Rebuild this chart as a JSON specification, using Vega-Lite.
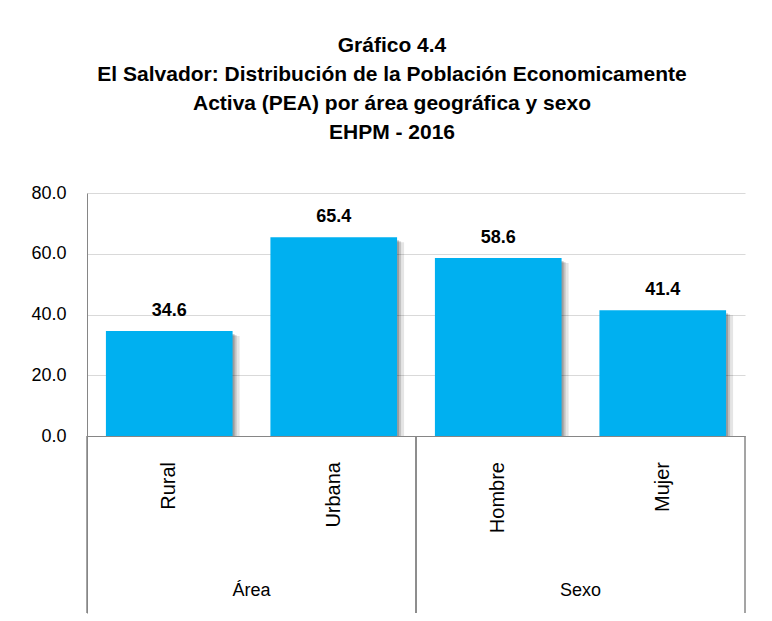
{
  "$schema": "https://vega.github.io/schema/vega-lite/v6.json",
  "width": 658,
  "height": 420,
  "autosize": {"type": "none"},
  "padding": {"left": 87, "top": 193, "right": 27, "bottom": 8},
  "background": "white",
  "title": {
    "text": ["Gráfico 4.4", "El Salvador: Distribución de la Población Economicamente", "Activa (PEA) por área geográfica y sexo", "EHPM - 2016"],
    "font": "Liberation Sans",
    "fontSize": 21,
    "fontWeight": "bold",
    "lineHeight": 29,
    "color": "#000000",
    "anchor": "middle",
    "frame": "group",
    "dx": -24,
    "offset": 41
  },
  "data": {
    "values": [
      {"grupo": "Área", "categoria": "Rural", "orden": 1, "valor": 34.6},
      {"grupo": "Área", "categoria": "Urbana", "orden": 2, "valor": 65.4},
      {"grupo": "Sexo", "categoria": "Hombre", "orden": 1, "valor": 58.6},
      {"grupo": "Sexo", "categoria": "Mujer", "orden": 2, "valor": 41.4}
    ]
  },
  "layer": [
    {
      "layer": [
        {
          "mark": {"type": "bar", "color": "#000000", "opacity": 0.1, "xOffset": 7, "yOffset": 5},
          "encoding": {
            "x": {"field": "categoria", "type": "nominal", "sort": ["Rural", "Urbana", "Hombre", "Mujer"], "scale": {"paddingInner": 0.23, "paddingOuter": 0.115}, "axis": null},
            "y": {"field": "valor", "type": "quantitative", "scale": {"domain": [-58.27, 80], "nice": false, "zero": false},
              "axis": {"title": null, "values": [0, 20, 40, 60, 80], "format": ".1f", "ticks": false, "domainColor": "#868686", "gridColor": {"condition": {"test": "datum.value === 0", "value": "#868686"}, "value": "#d9d9d9"}, "labelPadding": 21, "labelFont": "Liberation Sans", "labelFontSize": 18, "labelColor": "#000000"}},
            "y2": {"datum": 0}
          }
        },
        {
          "mark": {"type": "bar", "color": "#000000", "opacity": 0.15, "xOffset": 4, "yOffset": 4},
          "encoding": {
            "x": {"field": "categoria", "type": "nominal", "sort": ["Rural", "Urbana", "Hombre", "Mujer"], "scale": {"paddingInner": 0.23, "paddingOuter": 0.115}, "axis": null},
            "y": {"field": "valor", "type": "quantitative", "scale": {"domain": [-58.27, 80], "nice": false, "zero": false},
              "axis": {"title": null, "values": [0, 20, 40, 60, 80], "format": ".1f", "ticks": false, "domainColor": "#868686", "gridColor": {"condition": {"test": "datum.value === 0", "value": "#868686"}, "value": "#d9d9d9"}, "labelPadding": 21, "labelFont": "Liberation Sans", "labelFontSize": 18, "labelColor": "#000000"}},
            "y2": {"datum": 0}
          }
        },
        {
          "mark": {"type": "bar", "color": "#000000", "opacity": 0.2, "xOffset": 2, "yOffset": 3},
          "encoding": {
            "x": {"field": "categoria", "type": "nominal", "sort": ["Rural", "Urbana", "Hombre", "Mujer"], "scale": {"paddingInner": 0.23, "paddingOuter": 0.115}, "axis": null},
            "y": {"field": "valor", "type": "quantitative", "scale": {"domain": [-58.27, 80], "nice": false, "zero": false},
              "axis": {"title": null, "values": [0, 20, 40, 60, 80], "format": ".1f", "ticks": false, "domainColor": "#868686", "gridColor": {"condition": {"test": "datum.value === 0", "value": "#868686"}, "value": "#d9d9d9"}, "labelPadding": 21, "labelFont": "Liberation Sans", "labelFontSize": 18, "labelColor": "#000000"}},
            "y2": {"datum": 0}
          }
        }
      ]
    },
    {
      "layer": [
        {
          "mark": {"type": "bar", "color": "#00B0F0"},
          "encoding": {
            "x": {"field": "grupo", "type": "nominal", "sort": ["Área", "Sexo"], "scale": {"paddingInner": 0, "paddingOuter": 0},
              "axis": {"title": null, "orient": "bottom", "labelAngle": 0, "ticks": false, "tickSize": 0, "domain": false, "labelPadding": -18, "labelBaseline": "alphabetic", "labelFont": "Liberation Sans", "labelFontSize": 18, "labelColor": "#000000"}},
            "xOffset": {"field": "orden", "type": "nominal", "scale": {"paddingInner": 0.23, "paddingOuter": 0.115}},
            "y": {"field": "valor", "type": "quantitative", "scale": {"domain": [-58.27, 80], "nice": false, "zero": false},
              "axis": {"title": null, "values": [0, 20, 40, 60, 80], "format": ".1f", "ticks": false, "domainColor": "#868686", "gridColor": {"condition": {"test": "datum.value === 0", "value": "#868686"}, "value": "#d9d9d9"}, "labelPadding": 21, "labelFont": "Liberation Sans", "labelFontSize": 18, "labelColor": "#000000"}},
            "y2": {"datum": 0}
          }
        },
        {
          "mark": {"type": "text", "baseline": "alphabetic", "dy": -15, "font": "Liberation Sans", "fontWeight": "bold", "fontSize": 18, "color": "#000000"},
          "encoding": {
            "x": {"field": "grupo", "type": "nominal", "sort": ["Área", "Sexo"], "scale": {"paddingInner": 0, "paddingOuter": 0},
              "axis": {"title": null, "orient": "bottom", "labelAngle": 0, "ticks": false, "tickSize": 0, "domain": false, "labelPadding": -18, "labelBaseline": "alphabetic", "labelFont": "Liberation Sans", "labelFontSize": 18, "labelColor": "#000000"}},
            "xOffset": {"field": "orden", "type": "nominal", "scale": {"paddingInner": 0.23, "paddingOuter": 0.115}},
            "y": {"field": "valor", "type": "quantitative", "scale": {"domain": [-58.27, 80], "nice": false, "zero": false},
              "axis": {"title": null, "values": [0, 20, 40, 60, 80], "format": ".1f", "ticks": false, "domainColor": "#868686", "gridColor": {"condition": {"test": "datum.value === 0", "value": "#868686"}, "value": "#d9d9d9"}, "labelPadding": 21, "labelFont": "Liberation Sans", "labelFontSize": 18, "labelColor": "#000000"}},
            "text": {"field": "valor", "type": "quantitative", "format": ".1f"}
          }
        },
        {
          "mark": {"type": "text", "angle": 270, "align": "right", "baseline": "middle", "dx": -26, "font": "Liberation Sans", "fontSize": 20, "color": "#000000"},
          "encoding": {
            "x": {"field": "grupo", "type": "nominal", "sort": ["Área", "Sexo"], "scale": {"paddingInner": 0, "paddingOuter": 0},
              "axis": {"title": null, "orient": "bottom", "labelAngle": 0, "ticks": false, "tickSize": 0, "domain": false, "labelPadding": -18, "labelBaseline": "alphabetic", "labelFont": "Liberation Sans", "labelFontSize": 18, "labelColor": "#000000"}},
            "xOffset": {"field": "orden", "type": "nominal", "scale": {"paddingInner": 0.23, "paddingOuter": 0.115}},
            "y": {"datum": 0, "type": "quantitative", "scale": {"domain": [-58.27, 80], "nice": false, "zero": false},
              "axis": {"title": null, "values": [0, 20, 40, 60, 80], "format": ".1f", "ticks": false, "domainColor": "#868686", "gridColor": {"condition": {"test": "datum.value === 0", "value": "#868686"}, "value": "#d9d9d9"}, "labelPadding": 21, "labelFont": "Liberation Sans", "labelFontSize": 18, "labelColor": "#000000"}},
            "text": {"field": "categoria", "type": "nominal"}
          }
        },
        {
          "mark": {"type": "rule", "color": "#868686", "strokeWidth": 1},
          "encoding": {
            "x": {"field": "grupo", "type": "nominal", "sort": ["Área", "Sexo"], "bandPosition": 0, "scale": {"paddingInner": 0, "paddingOuter": 0},
              "axis": {"title": null, "orient": "bottom", "labelAngle": 0, "ticks": false, "tickSize": 0, "domain": false, "labelPadding": -18, "labelBaseline": "alphabetic", "labelFont": "Liberation Sans", "labelFontSize": 18, "labelColor": "#000000"}},
            "y": {"datum": 0, "type": "quantitative", "scale": {"domain": [-58.27, 80], "nice": false, "zero": false},
              "axis": {"title": null, "values": [0, 20, 40, 60, 80], "format": ".1f", "ticks": false, "domainColor": "#868686", "gridColor": {"condition": {"test": "datum.value === 0", "value": "#868686"}, "value": "#d9d9d9"}, "labelPadding": 21, "labelFont": "Liberation Sans", "labelFontSize": 18, "labelColor": "#000000"}},
            "y2": {"datum": -58.27}
          }
        },
        {
          "mark": {"type": "rule", "color": "#868686", "strokeWidth": 1},
          "encoding": {
            "x": {"field": "grupo", "type": "nominal", "sort": ["Área", "Sexo"], "bandPosition": 1, "scale": {"paddingInner": 0, "paddingOuter": 0},
              "axis": {"title": null, "orient": "bottom", "labelAngle": 0, "ticks": false, "tickSize": 0, "domain": false, "labelPadding": -18, "labelBaseline": "alphabetic", "labelFont": "Liberation Sans", "labelFontSize": 18, "labelColor": "#000000"}},
            "y": {"datum": 0, "type": "quantitative", "scale": {"domain": [-58.27, 80], "nice": false, "zero": false},
              "axis": {"title": null, "values": [0, 20, 40, 60, 80], "format": ".1f", "ticks": false, "domainColor": "#868686", "gridColor": {"condition": {"test": "datum.value === 0", "value": "#868686"}, "value": "#d9d9d9"}, "labelPadding": 21, "labelFont": "Liberation Sans", "labelFontSize": 18, "labelColor": "#000000"}},
            "y2": {"datum": -58.27}
          }
        }
      ]
    }
  ],
  "resolve": {"scale": {"x": "independent"}, "axis": {"x": "independent"}},
  "config": {"view": {"stroke": null}}
}
